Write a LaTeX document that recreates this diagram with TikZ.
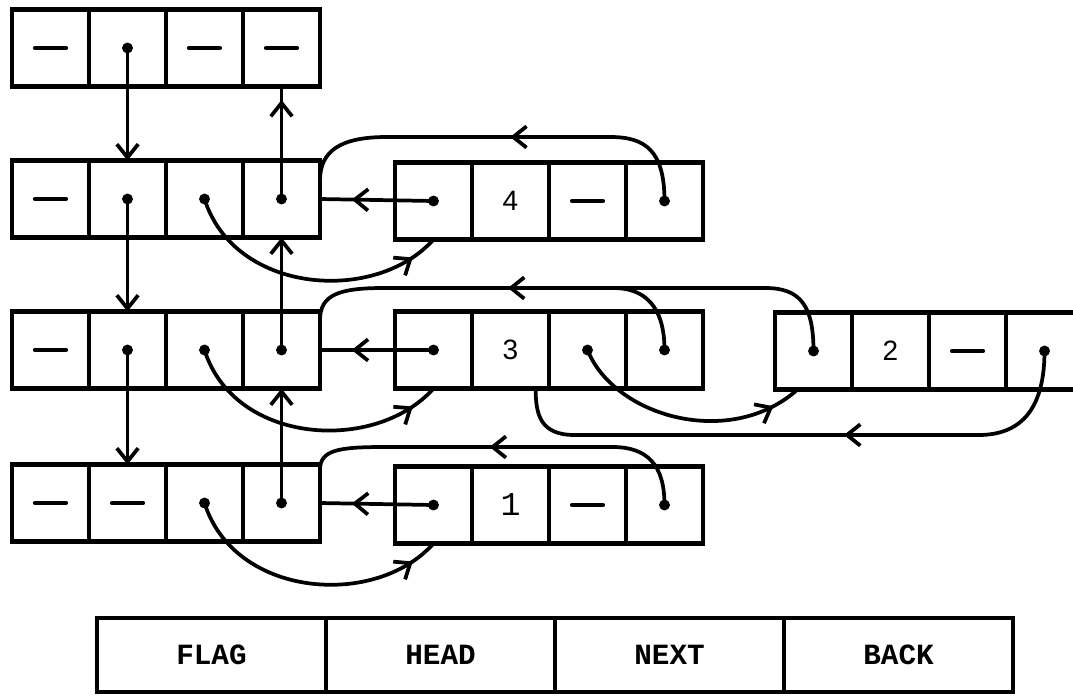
\documentclass[tikz,border=0pt]{standalone}
\usepackage{fontspec}
\setsansfont{Liberation Sans}
\setmonofont{Liberation Mono}
\usetikzlibrary{positioning,arrows.meta,decorations.markings}

\tikzset{
  cell/.style={draw, line width=3.1pt, minimum width=57.75pt, minimum height=57.75pt, inner sep=0pt, outer sep=0pt},
  key/.style={cell, minimum width=171.75pt, minimum height=55.5pt, font=\ttfamily\bfseries\fontsize{22}{24}\selectfont},
  num/.style={font=\sffamily\fontsize{21}{23}\selectfont},
  ptr/.style={line width=2.8pt, -{Straight Barb[length=10pt,width=16pt]}},
  link/.style={line width=2.8pt,
    decoration={markings, mark=at position #1 with {\arrow{Straight Barb[length=10pt,width=16pt]}}},
    postaction={decorate}},
  nil/.style={line width=3.4pt, line cap=round},
}

\begin{document}
\begin{tikzpicture}[x=0.75pt, y=-0.75pt]
    \useasboundingbox (0,0) rectangle (1073,697);
    \clip (0,0) rectangle (1073,697);

    % header rows (left column)
    \node[cell] (r0a) at (50.5,48) {};
    \node[cell, right=0pt of r0a] (r0b) {};
    \node[cell, right=0pt of r0b] (r0c) {};
    \node[cell, right=0pt of r0c] (r0d) {};

    \node[cell] (r1a) at (50.5,199) {};
    \node[cell, right=0pt of r1a] (r1b) {};
    \node[cell, right=0pt of r1b] (r1c) {};
    \node[cell, right=0pt of r1c] (r1d) {};

    \node[cell] (r2a) at (50.5,350) {};
    \node[cell, right=0pt of r2a] (r2b) {};
    \node[cell, right=0pt of r2b] (r2c) {};
    \node[cell, right=0pt of r2c] (r2d) {};

    \node[cell] (r3a) at (50.5,503) {};
    \node[cell, right=0pt of r3a] (r3b) {};
    \node[cell, right=0pt of r3b] (r3c) {};
    \node[cell, right=0pt of r3c] (r3d) {};

    % element 4
    \node[cell] (e4a) at (433.5,201) {};
    \node[cell, num, right=0pt of e4a] (e4b) {4};
    \node[cell, right=0pt of e4b] (e4c) {};
    \node[cell, right=0pt of e4c] (e4d) {};

    % element 3
    \node[cell] (e3a) at (433.5,350) {};
    \node[cell, num, right=0pt of e3a] (e3b) {3};
    \node[cell, right=0pt of e3b] (e3c) {};
    \node[cell, right=0pt of e3c] (e3d) {};

    % element 2 (runs off the right edge)
    \node[cell] (e2a) at (813.5,351) {};
    \node[cell, num, right=0pt of e2a] (e2b) {2};
    \node[cell, right=0pt of e2b] (e2c) {};
    \node[cell, right=0pt of e2c] (e2d) {};

    % element 1
    \node[cell] (e1a) at (433.5,505) {};
    \node[cell, font=\ttfamily\fontsize{25}{27}\selectfont, right=0pt of e1a] (e1b) {1};
    \node[cell, right=0pt of e1b] (e1c) {};
    \node[cell, right=0pt of e1c] (e1d) {};

    % empty fields
    \foreach \c in {r0a,r0c,r0d,r1a,r2a,r3a,r3b,e4c,e2c,e1c}
        \draw[nil] ([xshift=-11.5pt]\c.center) -- ([xshift=11.5pt]\c.center);

    % pointer origins
    \foreach \c in {r0b,r1b,r1c,r1d,r2b,r2c,r2d,r3c,r3d,e4a,e4d,e3a,e3c,e3d,e2a,e2d,e1a,e1d}
        \fill (\c.center) circle (4.1pt);

    % HEAD down, BACK up
    \draw[ptr] (r0b.center) -- (r1b.north);
    \draw[ptr] (r1b.center) -- (r2b.north);
    \draw[ptr] (r2b.center) -- (r3b.north);
    \draw[link=0.88] (r1d.center) -- (r0d.south);
    \draw[ptr] (r2d.center) -- (r1d.south);
    \draw[ptr] (r3d.center) -- (r2d.south);

    % NEXT links
    \draw[link=0.9] (r1c.center) .. controls +(30,95) and +(-58,65) .. (e4a.south);
    \draw[link=0.9] (r2c.center) .. controls +(30,95) and +(-58,65) .. (e3a.south);
    \draw[link=0.9] (r3c.center) .. controls +(30,95) and +(-58,65) .. (e1a.south);
    \draw[link=0.88] (e3c.center) .. controls +(27,67) and +(-67,60) .. ([xshift=-12pt]e2a.south);

    % links back to the headers
    \draw[link=0.72] (e4a.center) -- (r1d.east);
    \draw[link=0.72] (e3a.center) -- (r2d.east);
    \draw[link=0.72] (e1a.center) -- (r3d.east);

    \draw[link=0.48] (e4d.center) .. controls +(0,-50) and +(35,0) .. ++(-54,-64)
        -- ++(-224,0) .. controls +(-45,0) and +(0,-30) .. ([yshift=14pt]r1d.east);
    \draw[link=0.63] (e2a.center) .. controls +(0,-45) and +(35,0) .. ++(-48,-63)
        -- ++(-382,0) .. controls +(-45,0) and +(0,-25) .. ([yshift=22.5pt]r2d.east);
    \draw[line width=2.8pt] (e3d.center) .. controls +(0,-45) and +(30,0) .. ++(-51,-62);
    \draw[link=0.54] (e1d.center) .. controls +(0,-40) and +(35,0) .. ++(-52,-58)
        -- ++(-228,0) .. controls +(-45,0) and +(0,-20) .. ([yshift=25pt]r3d.east);
    \draw[link=0.43] (e2d.center) .. controls +(0,55) and +(45,0) .. ++(-66,84)
        -- ++(-404,0) .. controls +(-35,0) and +(0,25) .. ([xshift=-10pt]e3b.south east);

    % field names
    \node[key] (flag) at (211.5,655) {FLAG};
    \node[key, right=0pt of flag] (head) {HEAD};
    \node[key, right=0pt of head] (next) {NEXT};
    \node[key, right=0pt of next] (back) {BACK};
\end{tikzpicture}
\end{document}
